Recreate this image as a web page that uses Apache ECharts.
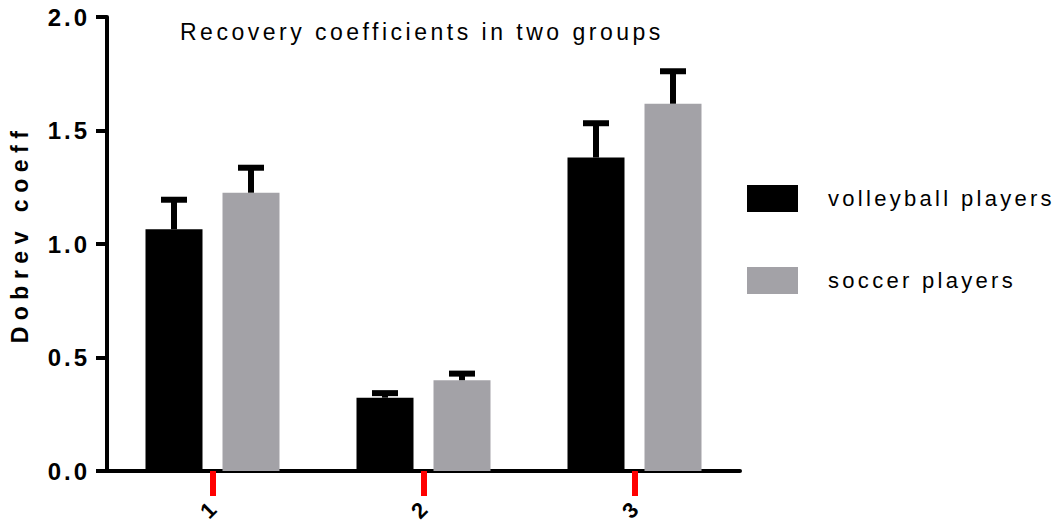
<!DOCTYPE html>
<html>
<head>
<meta charset="utf-8">
<script src="https://cdn.jsdelivr.net/npm/echarts@6/dist/echarts.min.js"></script>
<style>
  html, body { margin: 0; padding: 0; background: #fff; }
  #chart { width: 1058px; height: 524px; }
  #chart text { letter-spacing: 3px; }
</style>
</head>
<body>
<div id="chart"></div>
<script>
const categories = ['1', '2', '3'];
const seriesNames = ['volleyball players', 'soccer players'];
const volleyball = [1.065, 0.323, 1.381];
const volleyballErr = [0.13, 0.02, 0.151];
const soccer = [1.226, 0.400, 1.618];
const soccerErr = [0.11, 0.029, 0.143];
const yTicks = [0, 0.5, 1.0, 1.5, 2.0];
const titleText = 'Recovery coefficients in two groups';
const yName = 'Dobrev coeff';

const colors = ['#000000', '#a3a2a7'];
const BAR_W = 57, BAR_GAP = 20;

const spacing = {};
spacing[titleText] = '3.5px';
spacing[yName] = '6.5px';
seriesNames.forEach(n => spacing[n] = '3.3px');
categories.forEach(c => spacing[c] = '0px');

function errSeries(vals, errs, k) {
  const offset = (k === 0 ? -1 : 1) * (BAR_W + BAR_GAP) / 2;
  return {
    type: 'custom',
    z: 5,
    clip: false,
    silent: true,
    data: vals.map((v, i) => [i, v, errs[i]]),
    encode: { x: 0, y: 1 },
    renderItem: function (params, api) {
      const i = api.value(0), v = api.value(1), e = api.value(2);
      const base = api.coord([i, v]);
      const top = api.coord([i, v + e]);
      const x = base[0] + offset;
      return {
        type: 'group',
        children: [
          { type: 'rect', shape: { x: x - 3, y: top[1], width: 6, height: base[1] - top[1] }, style: { fill: '#000' } },
          { type: 'rect', shape: { x: x - 13, y: top[1] - 3, width: 26, height: 6 }, style: { fill: '#000' } }
        ]
      };
    }
  };
}

const el = document.getElementById('chart');
const chart = echarts.init(el, null, { renderer: 'svg' });
chart.setOption({
  animation: false,
  title: {
    text: titleText,
    left: 175, top: 15,
    textStyle: { fontFamily: 'Liberation Sans', fontSize: 23, fontWeight: 'normal', color: '#000' }
  },
  legend: {
    data: seriesNames,
    orient: 'vertical',
    left: 747, top: 185, padding: 0,
    itemWidth: 51, itemHeight: 27, itemGap: 55,
    icon: 'rect',
    textStyle: { fontFamily: 'Liberation Sans', fontSize: 22, color: '#000', padding: [0, 0, 0, 25] }
  },
  grid: { left: 107, right: 318, top: 17, bottom: 53, outerBoundsMode: 'none' },
  xAxis: {
    type: 'category',
    data: categories,
    axisLine: { lineStyle: { color: '#000', width: 4 } },
    axisTick: { show: true, alignWithLabel: true, length: 25, lineStyle: { color: 'red', width: 6 } },
    axisLabel: { rotate: 45, margin: 35, fontFamily: 'Liberation Sans', fontSize: 22, fontWeight: 'bold', color: '#000' }
  },
  yAxis: {
    type: 'value',
    min: yTicks[0], max: yTicks[yTicks.length - 1], interval: 0.5,
    name: yName,
    nameLocation: 'middle',
    nameGap: 76,
    nameTextStyle: { fontFamily: 'Liberation Sans', fontSize: 23, fontWeight: 'bold', color: '#000', padding: [0, 0, 0, 20] },
    axisLine: { show: true, lineStyle: { color: '#000', width: 4 } },
    axisTick: { show: true, length: 11, lineStyle: { color: '#000', width: 4 } },
    splitLine: { show: false },
    axisLabel: {
      margin: 17,
      fontFamily: 'Liberation Sans', fontSize: 24, fontWeight: 'bold', color: '#000',
      formatter: v => v.toFixed(1)
    }
  },
  series: [
    { name: seriesNames[0], type: 'bar', data: volleyball, barWidth: BAR_W, barGap: (BAR_GAP / BAR_W * 100) + '%', itemStyle: { color: colors[0] } },
    { name: seriesNames[1], type: 'bar', data: soccer, barWidth: BAR_W, itemStyle: { color: colors[1] } },
    errSeries(volleyball, volleyballErr, 0),
    errSeries(soccer, soccerErr, 1)
  ]
});

function applySpacing() {
  el.querySelectorAll('text').forEach(t => {
    const s = spacing[t.textContent];
    if (s !== undefined) t.style.letterSpacing = s;
  });
}
applySpacing();
chart.on('finished', applySpacing);
chart.on('rendered', applySpacing);
</script>
</body>
</html>
